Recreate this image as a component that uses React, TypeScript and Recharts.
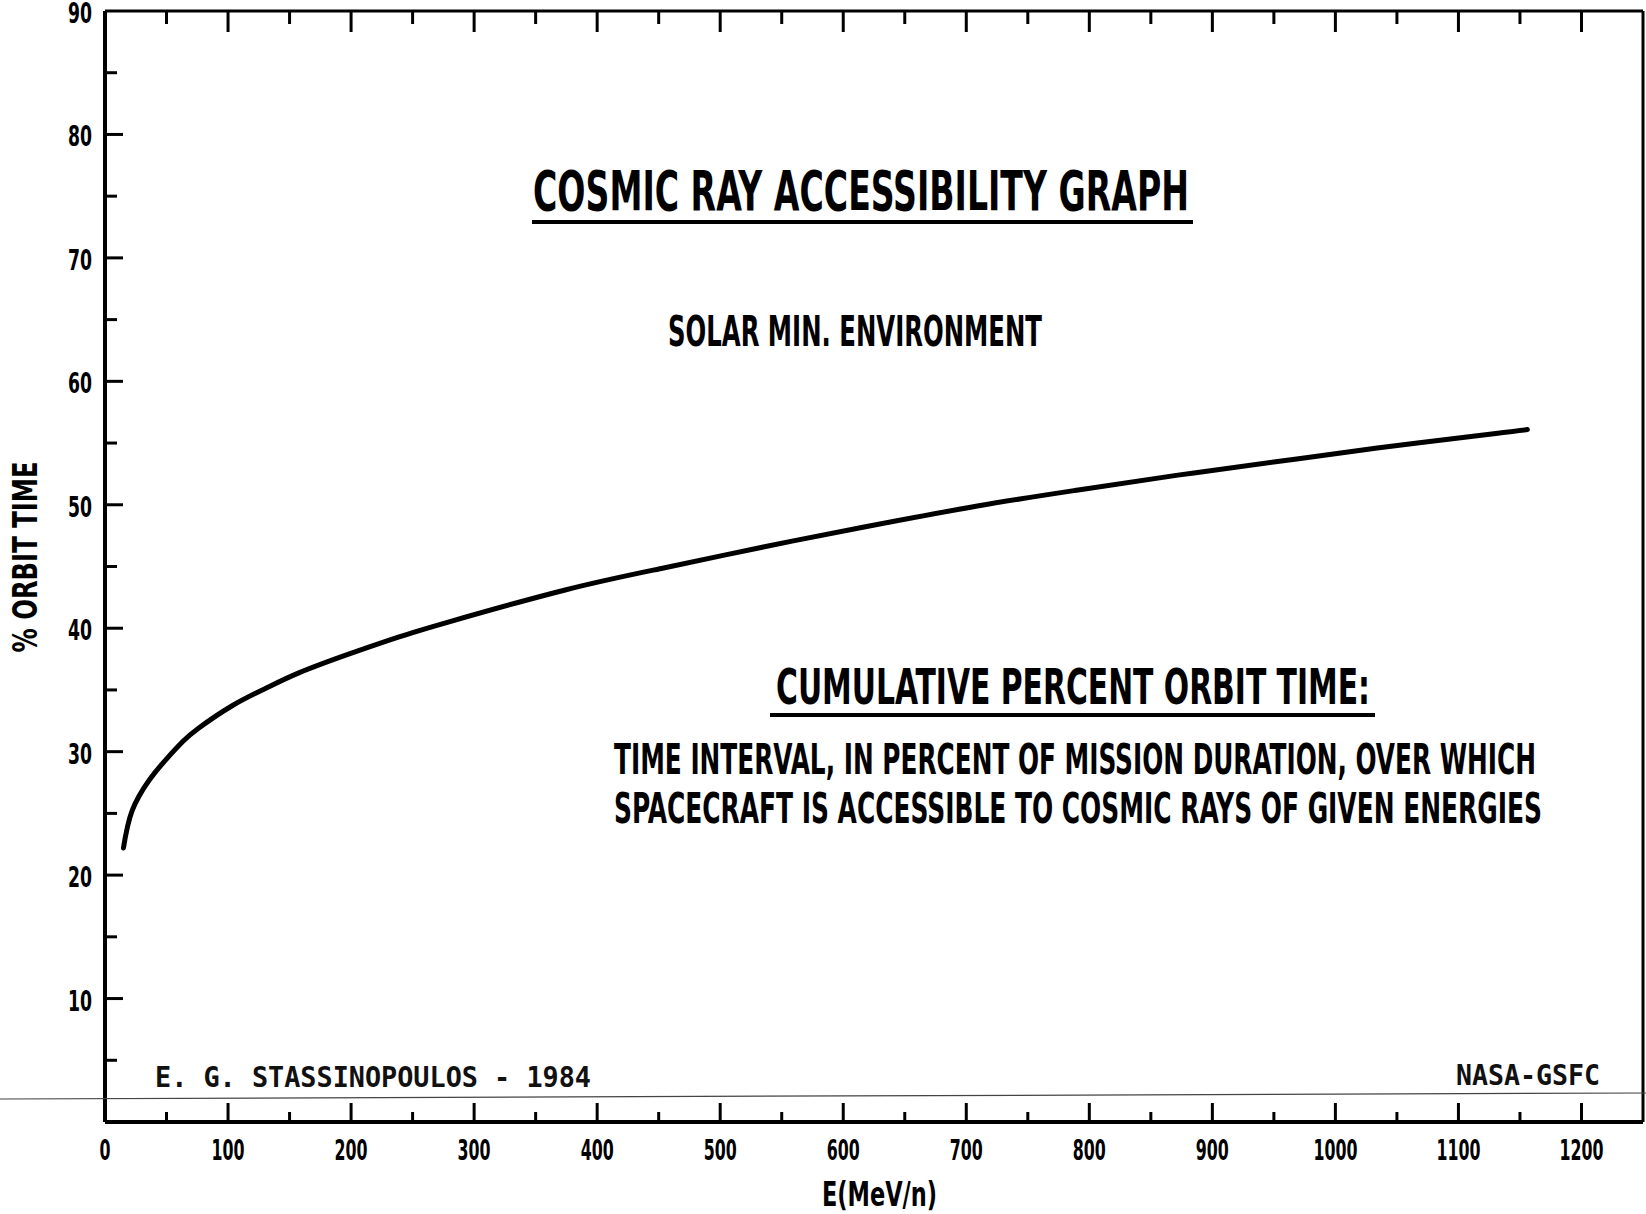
import React from 'react';
import { LineChart, Line, XAxis, YAxis } from 'recharts';

// ---- data ----
const energyMeV = [15, 22, 36, 49, 63, 76, 103, 130, 158, 198, 239, 279, 374, 455, 536, 617, 709, 791, 872, 953, 1034, 1132, 1156];
const orbitPct = [22.2, 25.2, 27.7, 29.3, 30.8, 31.9, 33.7, 35.1, 36.4, 37.9, 39.3, 40.5, 43.1, 44.9, 46.6, 48.2, 49.9, 51.2, 52.4, 53.5, 54.6, 55.8, 56.1];

const xTicks = [0, 50, 100, 150, 200, 250, 300, 350, 400, 450, 500, 550, 600, 650, 700, 750, 800, 850, 900, 950, 1000, 1050, 1100, 1150, 1200];
const xTickLabels = [0, 100, 200, 300, 400, 500, 600, 700, 800, 900, 1000, 1100, 1200];
const yTicks = [0, 5, 10, 15, 20, 25, 30, 35, 40, 45, 50, 55, 60, 65, 70, 75, 80, 85, 90];
const yTickLabels = [10, 20, 30, 40, 50, 60, 70, 80, 90];

const title = 'COSMIC RAY ACCESSIBILITY GRAPH';
const subtitle = 'SOLAR MIN. ENVIRONMENT';
const noteHeading = 'CUMULATIVE PERCENT ORBIT TIME:';
const noteLine1 = 'TIME INTERVAL, IN PERCENT OF MISSION DURATION, OVER WHICH';
const noteLine2 = 'SPACECRAFT IS ACCESSIBLE TO COSMIC RAYS OF GIVEN ENERGIES';
const author = 'E. G. STASSINOPOULOS - 1984';
const agency = 'NASA-GSFC';
const xTitle = 'E(MeV/n)';
const yTitle = '% ORBIT TIME';

const data = energyMeV.map((e, i) => ({ e, pct: orbitPct[i] }));

const NARROW = "'Liberation Sans Narrow', 'Arial Narrow', 'DejaVu Sans Condensed', 'DejaVu Sans', sans-serif";
const MONO = "'DejaVu Sans Mono', 'Liberation Mono', monospace";

const W = 1646;
const H = 1214;

const tickText = {
  fontFamily: NARROW,
  fontWeight: 700,
  fontSize: 28,
  fill: '#000',
  fontStretch: 'condensed' as const,
};

const BottomTick = (props: any) => {
  const { x, y, payload } = props;
  const v = payload.value;
  const major = v % 100 === 0;
  const label = String(v);
  return (
    <g>
      {v > 0 && <line x1={x} x2={x} y1={y} y2={y - (major ? 19 : 10)} stroke="#000" strokeWidth={3} />}
      {xTickLabels.includes(v) && (
        <text x={x} y={y + 38} textAnchor="middle" textLength={label.length * 11} lengthAdjust="spacingAndGlyphs" style={tickText}>
          {label}
        </text>
      )}
    </g>
  );
};

const TopTick = (props: any) => {
  const { x, y, payload } = props;
  const v = payload.value;
  const major = v % 100 === 0;
  if (v <= 0) return <g />;
  return <line x1={x} x2={x} y1={y} y2={y + (major ? 21 : 13)} stroke="#000" strokeWidth={3} />;
};

const LeftTick = (props: any) => {
  const { x, y, payload } = props;
  const v = payload.value;
  const major = v % 10 === 0;
  const label = String(v);
  return (
    <g>
      {v > 0 && v < 90 && <line x1={x} x2={x + (major ? 18 : 12)} y1={y} y2={y} stroke="#000" strokeWidth={3} />}
      {yTickLabels.includes(v) && (
        <text x={x - 13} y={y + 12} textAnchor="end" textLength={label.length * 12} lengthAdjust="spacingAndGlyphs" style={tickText}>
          {label}
        </text>
      )}
    </g>
  );
};

const RightTick = (props: any) => {
  const { x, y, payload } = props;
  const v = payload.value;
  const major = v % 10 === 0;
  if (v <= 0 || v >= 90) return <g />;
  return <line x1={x} x2={x - (major ? 17 : 10)} y1={y} y2={y} stroke="#000" strokeWidth={3} />;
};

const annText = {
  fontFamily: NARROW,
  fontWeight: 700,
  fill: '#000',
  fontStretch: 'condensed' as const,
};

const monoText = {
  fontFamily: MONO,
  fontWeight: 700,
  fill: '#111',
};

const Overlay = () => (
  <svg
    width={W}
    height={H}
    style={{ position: 'absolute', left: 0, top: 0, pointerEvents: 'none' }}
  >
    {/* scan line across the page */}
    <line x1={0} y1={1099} x2={W} y2={1093} stroke="#444" strokeWidth={1.2} />

    <text x={533} y={210} fontSize={55} textLength={656} lengthAdjust="spacingAndGlyphs" style={annText}>
      {title}
    </text>
    <line x1={532} x2={1193} y1={222} y2={222} stroke="#000" strokeWidth={4} />

    <text x={668} y={346} fontSize={42} textLength={374} lengthAdjust="spacingAndGlyphs" style={annText}>
      {subtitle}
    </text>

    <text x={776} y={704} fontSize={50} textLength={594} lengthAdjust="spacingAndGlyphs" style={annText}>
      {noteHeading}
    </text>
    <line x1={770} x2={1375} y1={715} y2={715} stroke="#000" strokeWidth={4} />

    <text x={614} y={774} fontSize={42} textLength={922} lengthAdjust="spacingAndGlyphs" style={annText}>
      {noteLine1}
    </text>
    <text x={614} y={823} fontSize={42} textLength={928} lengthAdjust="spacingAndGlyphs" style={annText}>
      {noteLine2}
    </text>

    <text x={155} y={1087} fontSize={29} textLength={436} lengthAdjust="spacingAndGlyphs" style={monoText}>
      {author}
    </text>
    <text x={1456} y={1085} fontSize={29} textLength={144} lengthAdjust="spacingAndGlyphs" style={monoText}>
      {agency}
    </text>

    <text x={822} y={1206} fontSize={34} textLength={115} lengthAdjust="spacingAndGlyphs" style={annText}>
      {xTitle}
    </text>
    <text
      x={37}
      y={557}
      fontSize={33}
      textAnchor="middle"
      textLength={191}
      lengthAdjust="spacingAndGlyphs"
      transform="rotate(-90 37 557)"
      style={annText}
    >
      {yTitle}
    </text>
  </svg>
);

export default function App() {
  return (
    <div style={{ position: 'absolute', left: 0, top: 0, width: W, height: H, background: '#fff' }}>
      <LineChart width={W} height={H} data={data} margin={{ top: 10, right: 2, bottom: 0, left: 0 }}>
        <XAxis
          xAxisId="bottom"
          dataKey="e"
          type="number"
          domain={[0, 1250]}
          ticks={xTicks}
          interval={0}
          orientation="bottom"
          height={92}
          tickSize={0}
          tickMargin={0}
          tick={<BottomTick />}
          tickLine={false}
          axisLine={{ stroke: '#000', strokeWidth: 4 }}
        />
        <XAxis
          xAxisId="top"
          dataKey="e"
          type="number"
          domain={[0, 1250]}
          ticks={xTicks}
          interval={0}
          orientation="top"
          height={1}
          tickSize={0}
          tickMargin={0}
          tick={<TopTick />}
          tickLine={false}
          axisLine={{ stroke: '#000', strokeWidth: 3 }}
        />
        <YAxis
          yAxisId="left"
          type="number"
          domain={[0, 90]}
          ticks={yTicks}
          interval={0}
          orientation="left"
          width={105}
          tickSize={0}
          tickMargin={0}
          tick={<LeftTick />}
          tickLine={false}
          axisLine={{ stroke: '#000', strokeWidth: 4 }}
        />
        <YAxis
          yAxisId="right"
          type="number"
          domain={[0, 90]}
          ticks={yTicks}
          interval={0}
          orientation="right"
          width={1}
          tickSize={0}
          tickMargin={0}
          tick={<RightTick />}
          tickLine={false}
          axisLine={{ stroke: '#000', strokeWidth: 3 }}
        />
        <Line
          xAxisId="bottom"
          yAxisId="left"
          type="natural"
          dataKey="pct"
          stroke="#000"
          strokeWidth={5}
          strokeLinecap="round"
          dot={false}
          isAnimationActive={false}
        />
      </LineChart>
      <Overlay />
    </div>
  );
}
